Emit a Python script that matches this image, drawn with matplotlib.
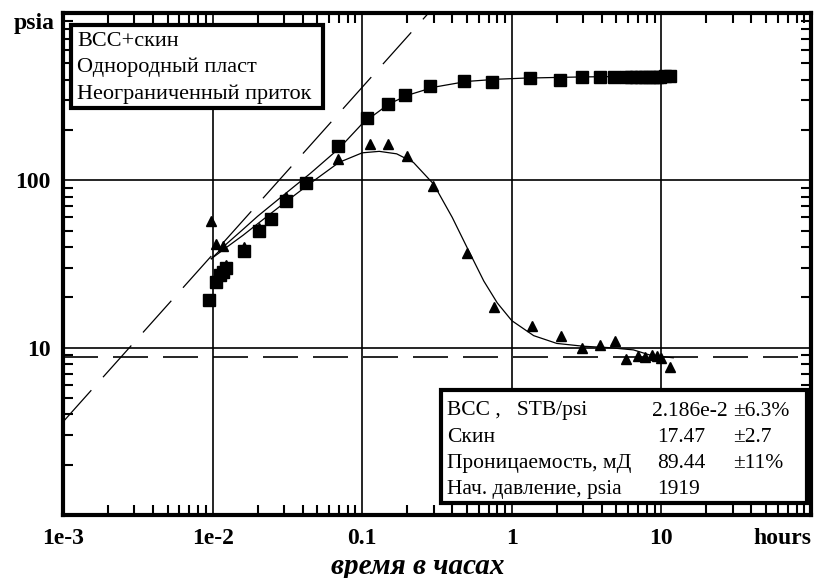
import matplotlib
matplotlib.use("Agg")
import matplotlib.pyplot as plt
from matplotlib.ticker import LogLocator, FixedLocator, FixedFormatter, NullFormatter
import numpy as np

plt.rcParams['font.family'] = ['Liberation Serif', 'DejaVu Serif']

# Pressure change data (squares)
p_t = [0.0094, 0.0106, 0.0112, 0.0118, 0.0122, 0.0161, 0.0203, 0.0244, 0.0311, 0.0423,
       0.069, 0.108, 0.149, 0.194, 0.284, 0.479, 0.735, 1.32, 2.09, 2.93, 3.86, 4.79,
       5.8, 6.3, 6.8, 7.3, 7.8, 8.3, 8.8, 9.3, 9.8, 10.5, 11.5]
p_v = [19.4, 24.8, 27, 28.5, 30, 37.6, 49.5, 59, 74.8, 96,
       160, 235, 285, 323, 365, 392, 385, 408, 400, 414, 414, 414,
       414, 414, 414, 414, 414, 414, 414, 414, 416, 420, 420]

# Derivative data (triangles)
d_t = [0.0097, 0.0105, 0.0117, 0.0115, 0.0122, 0.0161, 0.0203, 0.0311, 0.0423, 0.069,
       0.112, 0.149, 0.2, 0.297, 0.5, 0.76, 1.36, 2.12, 2.93, 3.86, 4.9,
       5.8, 7.0, 7.8, 8.6, 9.4, 10.0, 11.5]
d_v = [56.8, 41.4, 40.3, 29, 31, 40, 52, 80, 98, 135,
       164, 164, 139, 93, 36.6, 17.6, 13.4, 11.8, 9.9, 10.4, 11.0,
       8.6, 8.9, 8.8, 9.0, 8.9, 8.7, 7.7]

# Model pressure curve
mp_t = [0.0098, 0.0125, 0.016, 0.02, 0.03, 0.045, 0.07, 0.1, 0.15, 0.2, 0.3, 0.5,
        0.8, 1.2, 2, 3, 5, 8, 12]
mp_v = [34, 42, 51, 61, 82, 110, 155, 218, 285, 322, 360, 390,
        402, 408, 412, 415, 417, 419, 421]

# Model derivative curve
md_t = [0.0098, 0.0125, 0.016, 0.02, 0.03, 0.045, 0.07, 0.1, 0.13, 0.17, 0.22, 0.3,
        0.4, 0.5, 0.65, 0.8, 1.0, 1.4, 2, 3, 4.5, 6.5, 8.5, 12]
md_v = [34, 40, 47, 55, 73, 96, 128, 146, 149, 144, 128, 95,
        60, 40, 25, 18.5, 14.5, 11.8, 10.6, 10.2, 10.0, 9.7, 9.0, 8.7]

# Unit-slope wellbore storage line and radial flow line
us_t = [1e-3, 0.3]
us_v = [3.6, 1080]
rf_level = 8.83

x_ticks = [1e-3, 1e-2, 0.1, 1, 10, 100]
x_labels = ['1e-3', '1e-2', '0.1', '1', '10', 'hours']
y_ticks = [10, 100, 1000]
y_labels = ['10', '100', '']
y_unit = 'psia'

legend_lines = ['ВСС+скин', 'Однородный пласт', 'Неограниченный приток']
par_names = ['ВСС ,   STB/psi', 'Скин', 'Проницаемость, мД', 'Нач. давление, psia']
par_vals = ['2.186e-2', '17.47', '89.44', '1919']
par_errs = ['±6.3%', '±2.7', '±11%', '']

fig = plt.figure(figsize=(8.15, 5.78), dpi=100)
ax = fig.add_axes([63/815, 1-515/578, (811-63)/815, (515-13)/578])
ax.set_xscale('log')
ax.set_yscale('log')
ax.set_xlim(1e-3, 100)
ax.set_ylim(1, 1000)

for v in [1e-2, 0.1, 1, 10]:
    ax.axvline(v, color='black', lw=1.2, zorder=1)
for v in [10, 100]:
    ax.axhline(v, color='black', lw=1.2, zorder=1)

ax.plot(us_t, us_v, color='black', lw=0.9, ls=(0, (34, 14)), zorder=2)
ax.axhline(rf_level, color='black', lw=1.2, ls=(0, (21, 9)), zorder=2)
ax.plot(mp_t, mp_v, color='black', lw=0.9, zorder=3)
ax.plot(md_t, md_v, color='black', lw=0.9, zorder=3)
ax.plot(p_t, p_v, ls='none', marker='s', ms=8, color='black', zorder=4)
ax.plot(d_t, d_v, ls='none', marker='^', ms=7, color='black', zorder=4)

for s in ax.spines.values():
    s.set_linewidth(3)

ax.xaxis.set_major_locator(FixedLocator(x_ticks))
ax.xaxis.set_major_formatter(FixedFormatter(x_labels))
ax.xaxis.set_minor_locator(LogLocator(base=10, subs=np.arange(2, 10)))
ax.xaxis.set_minor_formatter(NullFormatter())
ax.yaxis.set_major_locator(FixedLocator(y_ticks))
ax.yaxis.set_major_formatter(FixedFormatter(y_labels))
ax.yaxis.set_minor_locator(LogLocator(base=10, subs=np.arange(2, 10)))
ax.yaxis.set_minor_formatter(NullFormatter())
ax.tick_params(which='both', direction='in', top=True, right=True, width=1.5, colors='black')
ax.tick_params(which='major', length=0, pad=9)
ax.tick_params(which='minor', length=7)
for lab in ax.get_xticklabels() + ax.get_yticklabels():
    lab.set_fontweight('bold')
    lab.set_fontsize(17)
ax.get_xticklabels()[-1].set_horizontalalignment('right')


def fx(px):
    return px / 815


def fy(py):
    return 1 - py / 578


fig.text(fx(34), fy(24), y_unit, fontsize=17, fontweight='bold', ha='center', va='center')
fig.text(fx(418), fy(566), 'время в часах', fontsize=21, fontweight='bold',
         fontstyle='italic', ha='center', va='center')

# Legend box
lx0, ly0, lx1, ly1 = 71, 25, 323, 108
fig.patches.append(plt.Rectangle((fx(lx0), fy(ly1)), fx(lx1) - fx(lx0), fy(ly0) - fy(ly1),
                                 transform=fig.transFigure, fill=True, facecolor='white',
                                 edgecolor='black', lw=3, zorder=10))
for i, t in enumerate(legend_lines):
    fig.text(fx(77), fy(41 + i * 26.5), t, fontsize=16, va='center', ha='left', zorder=11)

# Parameter box
bx0, by0, bx1, by1 = 441, 390, 807, 503
fig.patches.append(plt.Rectangle((fx(bx0), fy(by1)), fx(bx1) - fx(bx0), fy(by0) - fy(by1),
                                 transform=fig.transFigure, fill=True, facecolor='white',
                                 edgecolor='black', lw=3, zorder=10))
for i in range(4):
    yy = fy(411 + i * 26.3)
    fig.text(fx(447), yy, par_names[i], fontsize=15.5, va='center', ha='left', zorder=11)
    fig.text(fx(652 if i == 0 else 657), yy, par_vals[i], fontsize=15.5, va='center', ha='left', zorder=11)
    fig.text(fx(733), yy, par_errs[i], fontsize=15.5, va='center', ha='left', zorder=11)

fig.savefig('out.png', dpi=100)
